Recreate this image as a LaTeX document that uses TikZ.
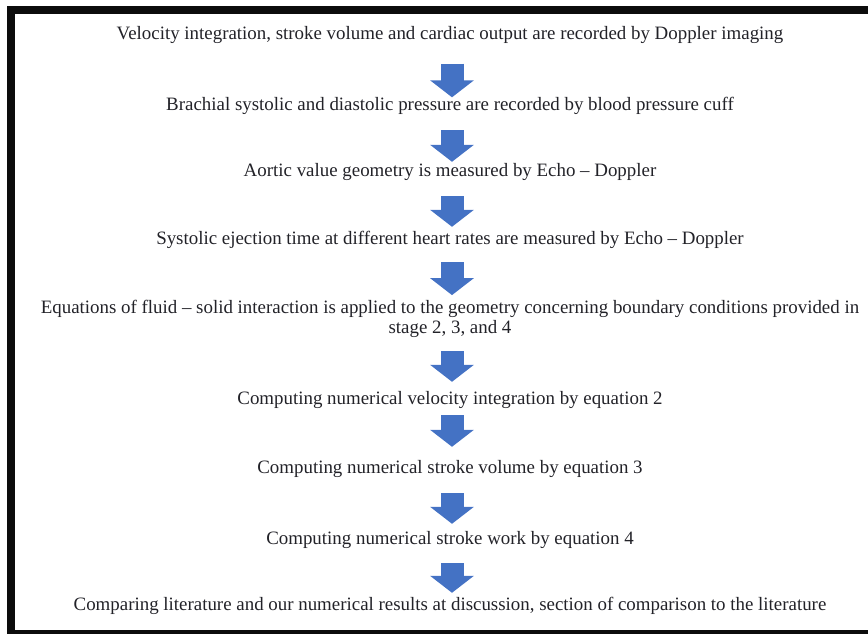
\documentclass[tikz,border=0pt]{standalone}
\usepackage{fontspec}
\setmainfont{Liberation Serif}
\usepackage{tikz}
\usetikzlibrary{arrows.meta}
\definecolor{flowblue}{RGB}{68,114,196}
\definecolor{framedark}{RGB}{12,12,12}
\definecolor{textdark}{RGB}{34,34,40}
\tikzset{
  stagetext/.style={inner sep=0pt, text height=13pt, text depth=4pt,
    font=\fontsize{18.9}{20}\selectfont, text=textdark},
  stagetwo/.style={inner sep=0pt, align=center,
    font=\fontsize{18.9}{20}\selectfont, text=textdark},
  downarrow/.style={line width=23pt, color=flowblue,
    -{Triangle[width=43pt, length=17pt]}},
  gaps/.style 2 args={shorten <=#1, shorten >=#2}
}

\begin{document}
\begin{tikzpicture}[x=1pt, y=-1pt]
  \useasboundingbox (0,0) rectangle (868,634);
  \clip (0,0) rectangle (868,634);
  % Frame
  \draw[line width=8pt, color=framedark] (11,10.5) rectangle (880,634);
  \coordinate (axis) at (452,0);

  % Stages
  \node[stagetext] (s1) at (450,35) {Velocity integration, stroke volume and cardiac output are recorded by Doppler imaging};
  \node[stagetext] (s2) at (450,106) {Brachial systolic and diastolic pressure are recorded by blood pressure cuff};
  \node[stagetext] (s3) at (450,172) {Aortic value geometry is measured by Echo – Doppler};
  \node[stagetext] (s4) at (450,240) {Systolic ejection time at different heart rates are measured by Echo – Doppler};
  \node[stagetwo] (s5) at (450,319) {Equations of fluid – solid interaction is applied to the geometry concerning boundary conditions provided in\\ stage 2, 3, and 4};
  \node[stagetext] (s6) at (450,400) {Computing numerical velocity integration by equation 2};
  \node[stagetext] (s7) at (450,469) {Computing numerical stroke volume by equation 3};
  \node[stagetext] (s8) at (450,540) {Computing numerical stroke work by equation 4};
  \node[stagetext] (s9) at (450,606) {Comparing literature and our numerical results at discussion, section of comparison to the literature};

  % Arrows
  \draw[downarrow, gaps={20pt}{0pt}] (s1.south -| axis) -- (s2.north -| axis);
  \draw[downarrow, gaps={15.5pt}{1.5pt}] (s2.south -| axis) -- (s3.north -| axis);
  \draw[downarrow, gaps={15.5pt}{4.5pt}] (s3.south -| axis) -- (s4.north -| axis);
  \draw[downarrow, gaps={13.5pt}{5pt}] (s4.south -| axis) -- (s5.north -| axis);
  \draw[downarrow, gaps={13.5pt}{9.5pt}] (s5.south -| axis) -- (s6.north -| axis);
  \draw[downarrow, gaps={6.5pt}{13.5pt}] (s6.south -| axis) -- (s7.north -| axis);
  \draw[downarrow, gaps={15.5pt}{7.5pt}] (s7.south -| axis) -- (s8.north -| axis);
  \draw[downarrow, gaps={14.5pt}{4.5pt}] (s8.south -| axis) -- (s9.north -| axis);
\end{tikzpicture}
\end{document}
